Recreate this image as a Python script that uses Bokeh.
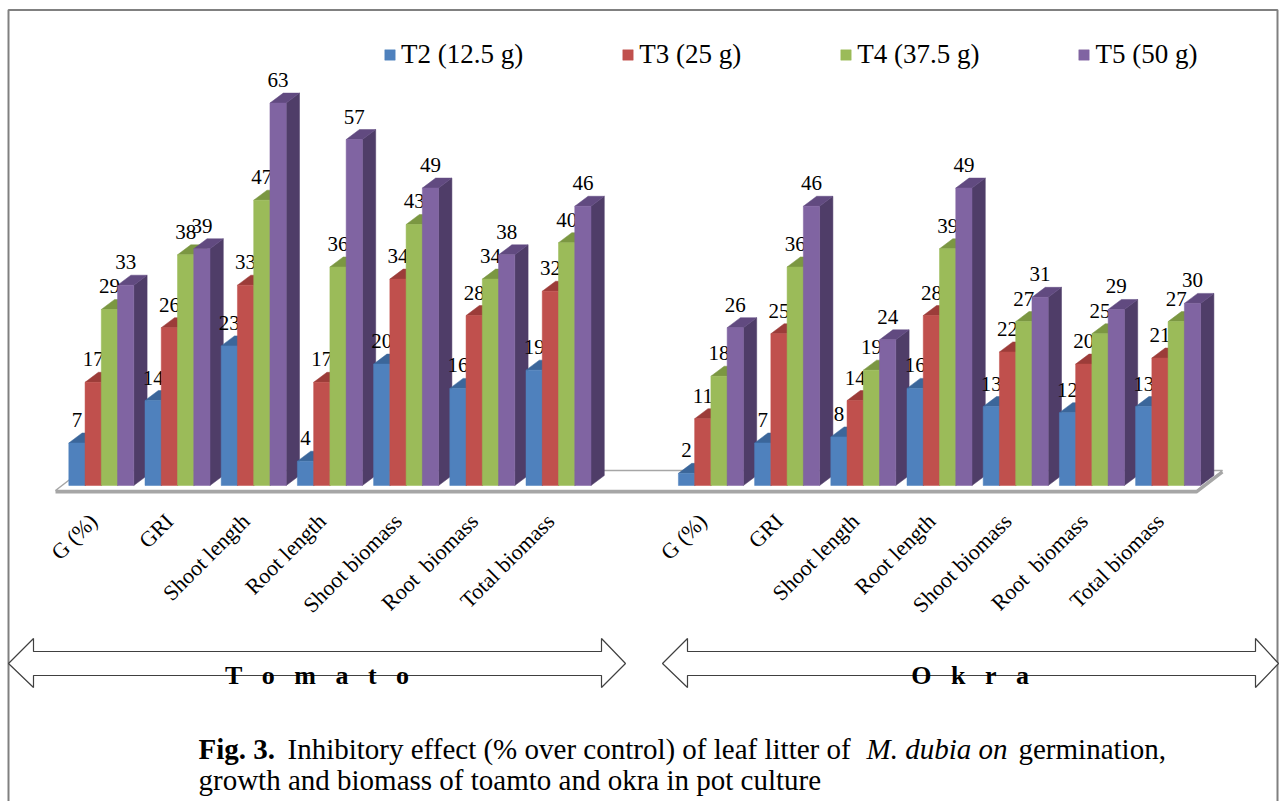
import math
from bokeh.plotting import figure
from bokeh.models import ColumnDataSource, Legend, LegendItem, Range1d
from bokeh.core.properties import value
from bokeh.embed import file_html
from bokeh.resources import INLINE

# ---------------- data ----------------
categories = ["G (%)", "GRI", "Shoot length", "Root length", "Shoot biomass",
              "Root\u00a0 biomass", "Total biomass"]
crops = ["T\u00a0\u00a0\u00a0o\u00a0\u00a0\u00a0m\u00a0\u00a0\u00a0a\u00a0\u00a0\u00a0t\u00a0\u00a0\u00a0o",
         "O\u00a0\u00a0\u00a0k\u00a0\u00a0\u00a0r\u00a0\u00a0\u00a0a"]
series_names = ["T2 (12.5 g)", "T3 (25 g)", "T4 (37.5 g)", "T5 (50 g)"]

tomato_t2 = [7, 14, 23, 4, 20, 16, 19]
tomato_t3 = [17, 26, 33, 17, 34, 28, 32]
tomato_t4 = [29, 38, 47, 36, 43, 34, 40]
tomato_t5 = [33, 39, 63, 57, 49, 38, 46]

okra_t2 = [2, 7, 8, 16, 13, 12, 13]
okra_t3 = [11, 25, 14, 28, 22, 20, 21]
okra_t4 = [18, 36, 19, 39, 27, 25, 27]
okra_t5 = [26, 46, 24, 49, 31, 29, 30]

caption_bold = "Fig. 3."
caption_1a = "Inhibitory effect (% over control) of leaf litter of"
caption_1b = "M. dubia on"
caption_1c = "germination,"
caption_2 = "growth and biomass of toamto and okra in pot culture"

# ---------------- layout ----------------
W, H = 1279, 801
M = 0
PX_CAT = 76.2
PX_UNIT = 6.07
CAT0_PX = 100.8
BASE_PY = 485

x_start = -(CAT0_PX - M) / PX_CAT
x_end = x_start + W / PX_CAT
y_end = (BASE_PY - M) / PX_UNIT
y_start = y_end - H / PX_UNIT


def X(px):
    return x_start + (px - M) / PX_CAT


def Y(py):
    return y_end - (py - M) / PX_UNIT


bw = 16.25 / PX_CAT
ddx = 13.3 / PX_CAT
ddy = 10.0 / PX_UNIT

positions = list(range(7)) + list(range(8, 15))
series_vals = [tomato_t2 + okra_t2, tomato_t3 + okra_t3,
               tomato_t4 + okra_t4, tomato_t5 + okra_t5]

front_colors = ["#4F81BD", "#C0504D", "#9BBB59", "#8064A2"]
top_colors = ["#3B669A", "#9C3C39", "#7B9742", "#614A80"]
side_colors = ["#2F5482", "#84312F", "#677F37", "#4F3D68"]
font = "Liberation Serif"

p = figure(width=W, height=H, output_backend="svg", toolbar_location=None,
           x_range=Range1d(x_start, x_end), y_range=Range1d(y_start, y_end),
           x_axis_type=None, y_axis_type=None, min_border=0,
           background_fill_color="white", border_fill_color="white")
p.grid.visible = False
p.outline_line_color = None

# page frame
frame_px = [(8, 801), (8, 9.5), (1277, 9.5), (1277, 801)]
p.line([X(a) for a, b in frame_px], [Y(b) for a, b in frame_px],
       line_color="#808080", line_width=2)

# floor plate
floor_px = [(55, 490), (1196, 490), (1222, 470), (81, 470)]
p.patch([X(a) for a, b in floor_px], [Y(b) for a, b in floor_px],
        fill_color="white", line_color="#a6a6a6", line_width=1.5)
p.line([X(55), X(1196), X(1222)], [Y(491.5), Y(491.5), Y(471.5)],
       line_color="#a6a6a6", line_width=3)

# side and top faces (painter's order, left to right)
xs, ys, cols = [], [], []
for g, pos in enumerate(positions):
    for j in range(4):
        v = series_vals[j][g]
        l = pos - 2 * bw + j * bw
        r = l + bw
        xs.append([r, r + ddx, r + ddx, r])
        ys.append([0, ddy, v + ddy, v])
        cols.append(side_colors[j])
        xs.append([l, r, r + ddx, l + ddx])
        ys.append([v, v, v + ddy, v + ddy])
        cols.append(top_colors[j])
p.patches(xs=xs, ys=ys, fill_color=cols, line_color=cols, line_width=0.5)

# front faces and value labels
front_renderers = []
for j in range(4):
    xc = [pos - 2 * bw + (j + 0.5) * bw for pos in positions]
    src = ColumnDataSource(dict(x=xc, top=series_vals[j],
                                lbl=[str(v) for v in series_vals[j]]))
    r = p.vbar(x="x", top="top", bottom=0, width=bw, source=src,
               fill_color=front_colors[j], line_color=front_colors[j], line_width=0.5)
    front_renderers.append(r)
    p.text(x="x", y="top", text="lbl", source=src, y_offset=-23,
           text_align="center", text_baseline="middle",
           text_font=value(font), text_font_size="21px", text_color="black")

# category labels
cat_src = ColumnDataSource(dict(x=[pos - 8 / PX_CAT for pos in positions],
                                y=[Y(517)] * len(positions),
                                t=categories + categories))
p.text(x="x", y="y", text="t", source=cat_src, angle=math.pi / 4,
       text_align="right", text_baseline="middle",
       text_font=value(font), text_font_size="22px", text_color="black")

# double arrows with crop names
arrow_tomato = [(8, 663), (33, 638), (33, 651), (601, 651), (601, 638), (625, 663),
                (601, 687), (601, 675), (33, 675), (33, 687)]
arrow_okra = [(662, 663), (687, 638), (687, 651), (1255, 651), (1255, 638), (1278, 663),
              (1255, 687), (1255, 675), (687, 675), (687, 687)]
for arr in (arrow_tomato, arrow_okra):
    p.patch([X(a) for a, b in arr], [Y(b) for a, b in arr],
            fill_color="white", line_color="#404040", line_width=1.2)
p.text(x=[X(316.5), X(969.7)], y=[Y(675), Y(675)], text=crops,
       text_align="center", text_baseline="alphabetic",
       text_font=value(font), text_font_size="26px", text_font_style="bold",
       text_color="black")

# caption
p.text(x=[X(198)], y=[Y(748)], text=[caption_bold], text_baseline="alphabetic",
       text_font=value(font), text_font_size="29px", text_font_style="bold",
       text_color="black")
p.text(x=[X(287), X(1018)], y=[Y(748), Y(748)], text=[caption_1a, caption_1c],
       text_baseline="alphabetic", text_font=value(font), text_font_size="29px",
       text_color="black")
p.text(x=[X(866)], y=[Y(748)], text=[caption_1b], text_baseline="alphabetic",
       text_font=value(font), text_font_size="29px", text_font_style="italic",
       text_color="black")
p.text(x=[X(198)], y=[Y(779)], text=[caption_2], text_baseline="alphabetic",
       text_font=value(font), text_font_size="29px", text_color="black")

# legend
legend = Legend(items=[LegendItem(label=s, renderers=[front_renderers[j]])
                       for j, s in enumerate(series_names)],
                orientation="horizontal", location=(383, 731),
                glyph_width=13, glyph_height=13, label_standoff=5, spacing=98,
                padding=0, margin=0, border_line_color=None,
                background_fill_alpha=0,
                label_text_font=font, label_text_font_size="27px",
                label_text_color="black")
p.add_layout(legend)

open("out.html", "w").write(file_html(p, INLINE))
